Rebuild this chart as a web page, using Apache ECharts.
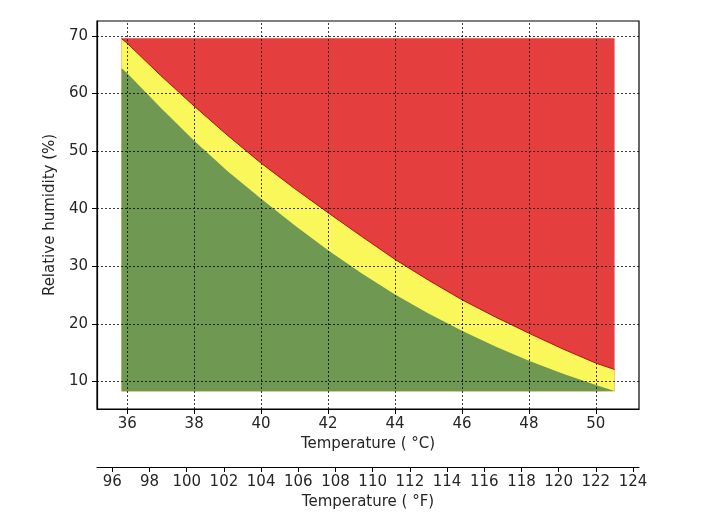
<!DOCTYPE html>
<html>
<head>
<meta charset="utf-8">
<script src="https://cdn.jsdelivr.net/npm/echarts@6/dist/echarts.min.js"></script>
<style>html,body{margin:0;padding:0;background:#fff;}#c{width:712px;height:520px;}</style>
</head>
<body>
<div id="c"></div>
<script>
// Data
var tempC  = [35.83, 36, 37, 38, 39, 40, 41, 42, 43, 44, 45, 46, 47, 48, 49, 50, 50.56];
var upperRH = [69.5, 68.7, 63.1, 57.8, 52.7, 47.9, 43.5, 39.3, 35.2, 31.2, 27.6, 24.2, 21.2, 18.4, 15.7, 13.2, 12.1];
var lowerRH = [64.4, 63.5, 57.5, 51.8, 46.5, 41.7, 37.1, 32.8, 28.8, 25.1, 21.8, 18.8, 16.1, 13.6, 11.4, 9.4, 8.35];
var rhTop = 69.5;
var rhBottom = 8.3;
var xTicksC = [36, 38, 40, 42, 44, 46, 48, 50];
var xTicksF = [96, 98, 100, 102, 104, 106, 108, 110, 112, 114, 116, 118, 120, 122, 124];
var yTicks = [10, 20, 30, 40, 50, 60, 70];
var xMinC = 35.097, xMaxC = 51.29;
var yMin = 5.24, yMax = 72.56;

function pairs(ys) { return tempC.map(function (x, i) { return [x, ys[i]]; }); }
var topLine = tempC.map(function () { return rhTop; });

var font = 'DejaVu Sans';
var txt = '#262626';
var gridLineStyle = { color: '#000', type: [2, 2], width: 1, opacity: 0.75 };

var chart = echarts.init(document.getElementById('c'));
chart.setOption({
  animation: false,
  backgroundColor: '#fff',
  grid: { left: 97, top: 21, right: 73, bottom: 111, show: true, borderColor: '#000', borderWidth: 1.2, backgroundColor: 'transparent' },
  xAxis: [
    {
      type: 'value', min: xMinC, max: xMaxC, position: 'bottom',
      name: 'Temperature ( \u00B0C)', nameLocation: 'middle', nameGap: 28,
      nameTextStyle: { fontFamily: font, fontSize: 15, color: txt },
      axisLine: { show: true, lineStyle: { color: '#000', width: 1.2 } },
      axisTick: { show: true, length: 5, lineStyle: { color: '#000' }, customValues: xTicksC },
      axisLabel: { fontFamily: font, fontSize: 15, color: txt, margin: 8, customValues: xTicksC },
      splitLine: { show: false }
    },
    {
      type: 'value', min: xMinC * 1.8 + 32, max: xMaxC * 1.8 + 32, position: 'bottom', offset: 58,
      name: 'Temperature ( \u00B0F)', nameLocation: 'middle', nameGap: 28,
      nameTextStyle: { fontFamily: font, fontSize: 15, color: txt },
      axisLine: { show: true, onZero: false, lineStyle: { color: '#000', width: 1.2 } },
      axisTick: { show: true, length: 5, lineStyle: { color: '#000' }, customValues: xTicksF },
      axisLabel: { fontFamily: font, fontSize: 15, color: txt, margin: 8, customValues: xTicksF },
      splitLine: { show: false }
    }
  ],
  yAxis: {
    type: 'value', min: yMin, max: yMax,
    name: 'Relative humidity (%)', nameLocation: 'middle', nameGap: 32,
    nameTextStyle: { fontFamily: font, fontSize: 15, color: txt },
    axisLine: { show: true, lineStyle: { color: '#000', width: 1.2 } },
    axisTick: { show: true, length: 5, lineStyle: { color: '#000' }, customValues: yTicks },
    axisLabel: { fontFamily: font, fontSize: 15, color: txt, margin: 9, customValues: yTicks },
    splitLine: { show: false }
  },
  series: [
    {
      type: 'line', name: 'danger', data: pairs(topLine), z: 2, symbol: 'none', silent: true,
      lineStyle: { width: 0.8, color: '#E43E3E' },
      areaStyle: { color: '#E43E3E', opacity: 1, origin: rhBottom }
    },
    {
      type: 'line', name: 'caution', data: pairs(upperRH), z: 3, symbol: 'none', silent: true,
      smooth: false,
      lineStyle: { width: 1, color: '#B81010' },
      areaStyle: { color: '#FAF75A', opacity: 1, origin: rhBottom }
    },
    {
      type: 'line', name: 'safe', data: pairs(lowerRH), z: 4, symbol: 'none', silent: true,
      smooth: false,
      lineStyle: { width: 0 },
      areaStyle: { color: '#6F9852', opacity: 1, origin: rhBottom }
    },
    {
      type: 'line', name: 'gridlines', data: [], z: 6, silent: true, symbol: 'none',
      markLine: {
        silent: true, symbol: ['none', 'none'], label: { show: false },
        lineStyle: gridLineStyle,
        data: xTicksC.map(function (v) { return { xAxis: v }; })
          .concat(yTicks.map(function (v) { return { yAxis: v }; }))
      }
    }
  ]
});
</script>
</body>
</html>
